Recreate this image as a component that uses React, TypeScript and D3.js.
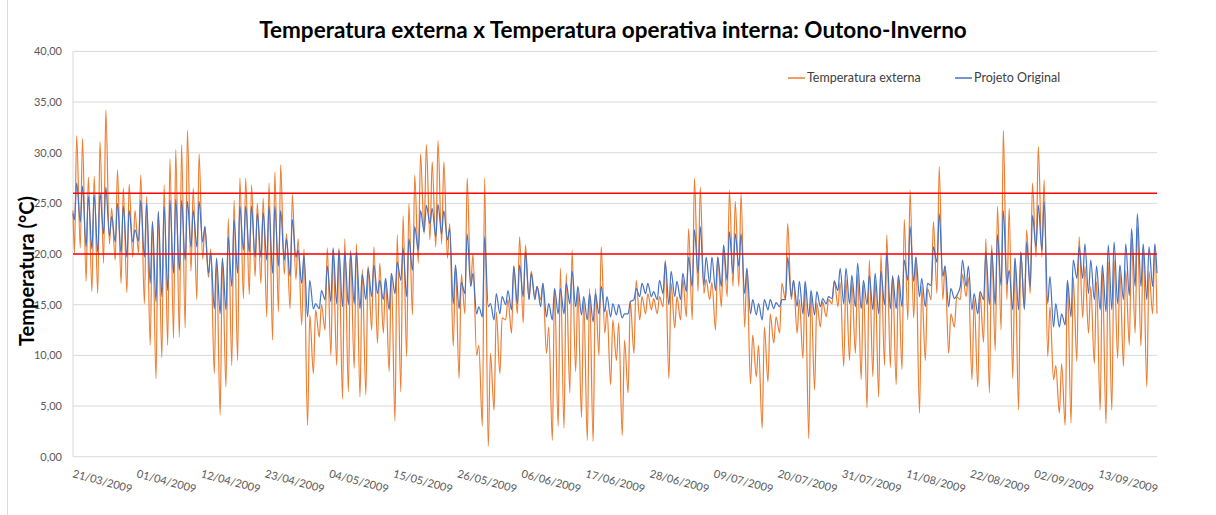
import React from 'react';
import * as d3 from 'd3';

// one value per day, 21/03/2009 .. 22/09/2009 (186 days)
const extMax = [
  31.7, 31.4, 27.6, 27.7, 31.1, 34.2, 24.5, 28.3, 26.5, 26.9,
  24.3, 27.8, 25.7, 23.2, 24.2, 26.8, 29.4, 30.3, 30.8, 32.2,
  26.5, 29.9, 22.7, 20.5, 19.5, 19.5, 23.5, 25.3, 27.5, 27.5,
  26.8, 25.0, 25.5, 27.0, 28.1, 28.8, 22.0, 25.9, 21.5, 20.5,
  14.0, 14.5, 15.0, 20.6, 20.4, 20.6, 21.5, 20.4, 21.0, 18.5,
  18.8, 20.7, 19.1, 17.5, 18.1, 21.9, 23.8, 25.0, 27.8, 29.9,
  30.8, 29.1, 31.2, 29.1, 23.0, 18.9, 18.0, 27.5, 20.0, 11.0,
  27.5, 10.2, 14.3, 13.7, 15.5, 18.8, 21.7, 20.9, 18.3, 16.8,
  17.1, 12.8, 16.6, 18.6, 18.1, 20.4, 16.4, 15.5, 16.6, 16.6,
  20.7, 14.5, 13.5, 13.2, 11.5, 15.3, 17.4, 15.8, 16.1, 15.6,
  15.8, 19.4, 17.1, 15.8, 17.5, 22.5, 27.5, 26.6, 17.5, 17.2,
  19.7, 20.5, 26.3, 25.2, 26.0, 18.6, 12.0, 11.0, 12.8, 14.1,
  13.8, 17.1, 23.0, 17.4, 15.5, 17.1, 16.2, 15.2, 15.3, 15.5,
  17.4, 17.2, 17.5, 17.3, 18.0, 17.0, 19.4, 17.4, 20.0, 21.9,
  17.9, 17.7, 23.4, 26.3, 19.7, 16.8, 16.6, 23.2, 28.6, 18.8,
  14.1, 15.8, 18.0, 17.7, 15.5, 16.1, 21.5, 20.9, 24.7, 32.2,
  24.5, 19.6, 20.2, 22.4, 27.0, 30.6, 27.3, 14.8, 9.0, 9.2,
  17.4, 17.7, 21.7, 18.8, 16.8, 17.3, 18.4, 19.2, 19.4, 18.3,
  18.4, 21.5, 22.7, 20.7, 18.3, 20.7,
];

const extMin = [
  20.1, 20.6, 17.3, 16.3, 16.1, 19.1, 21.0, 19.4, 17.1, 16.2,
  19.7, 20.1, 15.1, 11.0, 7.7, 9.8, 11.0, 11.7, 11.8, 12.7,
  18.3, 15.5, 19.5, 17.7, 8.2, 4.1, 6.9, 9.0, 9.5, 15.6,
  16.0, 17.8, 17.1, 13.8, 11.5, 14.3, 18.0, 14.6, 17.5, 13.0,
  3.1, 8.2, 11.8, 12.5, 10.0, 9.0, 5.7, 6.4, 8.7, 5.9,
  6.1, 12.5, 11.2, 12.2, 8.4, 3.5, 6.4, 9.9, 14.0, 19.1,
  22.0, 21.4, 20.7, 21.0, 19.6, 10.9, 7.7, 14.1, 17.0, 10.0,
  3.0, 1.0, 4.6, 8.2, 13.5, 12.2, 14.1, 13.2, 15.5, 15.8,
  15.5, 10.2, 1.6, 3.0, 2.8, 6.3, 8.4, 3.9, 1.6, 1.5,
  10.0, 12.2, 7.1, 9.5, 2.1, 6.3, 10.2, 13.5, 14.1, 14.5,
  14.1, 14.8, 7.7, 12.7, 13.5, 13.8, 13.5, 16.3, 16.1, 15.5,
  12.5, 14.8, 15.8, 16.8, 16.8, 12.8, 7.2, 7.9, 2.8, 7.4,
  11.2, 12.2, 15.5, 15.5, 12.2, 9.7, 1.8, 6.6, 12.8, 13.8,
  15.1, 14.8, 8.9, 9.5, 10.2, 7.6, 4.8, 7.9, 5.9, 9.0,
  8.8, 7.1, 8.6, 13.5, 13.7, 4.3, 9.5, 15.5, 16.1, 15.5,
  10.2, 12.8, 15.5, 15.8, 7.6, 6.9, 11.3, 6.3, 10.5, 12.5,
  15.5, 7.7, 4.6, 14.5, 16.1, 19.7, 19.7, 9.9, 7.6, 4.3,
  3.1, 3.3, 9.4, 13.7, 12.2, 9.2, 4.6, 3.3, 4.6, 9.7,
  8.9, 11.0, 12.2, 10.9, 6.9, 14.1,
];

const intMax = [
  27.0, 26.7, 25.7, 25.8, 26.0, 26.6, 23.7, 25.0, 24.7, 24.3,
  22.4, 25.3, 25.0, 23.2, 24.2, 24.7, 25.3, 25.4, 25.3, 25.2,
  24.3, 25.2, 22.7, 20.1, 19.6, 19.6, 21.7, 23.4, 24.7, 24.7,
  24.7, 24.0, 24.1, 24.7, 24.7, 24.3, 21.5, 23.4, 20.4, 19.9,
  17.4, 15.1, 16.4, 18.8, 20.6, 20.4, 20.2, 20.2, 20.2, 18.0,
  18.6, 18.9, 17.4, 17.6, 18.1, 19.2, 20.6, 21.5, 22.7, 24.3,
  24.8, 24.5, 24.9, 24.3, 22.5, 18.9, 17.2, 22.0, 18.1, 14.8,
  21.7, 15.1, 16.1, 15.8, 16.4, 18.8, 18.9, 20.2, 18.1, 16.8,
  17.1, 15.1, 16.6, 16.6, 17.1, 18.3, 16.8, 15.8, 16.1, 16.1,
  16.8, 15.8, 15.1, 15.0, 14.1, 15.3, 16.6, 17.1, 17.1, 16.3,
  17.4, 19.2, 18.3, 17.3, 18.1, 19.7, 22.4, 22.7, 19.7, 19.7,
  19.7, 20.9, 22.2, 22.0, 22.0, 18.6, 15.5, 15.1, 15.5, 15.5,
  15.2, 15.5, 19.7, 17.4, 17.3, 17.3, 16.4, 16.3, 15.6, 15.8,
  17.3, 18.6, 18.6, 17.9, 19.1, 17.4, 17.9, 18.1, 18.3, 20.1,
  17.8, 17.9, 19.4, 22.7, 19.7, 17.6, 17.1, 20.7, 24.0, 18.8,
  16.6, 15.9, 19.4, 18.8, 16.1, 16.3, 20.2, 20.4, 21.9, 24.3,
  18.4, 19.6, 20.2, 21.2, 23.8, 24.8, 25.2, 17.8, 15.1, 14.1,
  17.4, 19.4, 20.7, 21.0, 19.4, 18.8, 18.9, 20.9, 21.2, 18.9,
  21.0, 22.5, 24.0, 21.0, 20.7, 21.0,
];

const intMin = [
  23.4, 23.2, 20.7, 20.5, 20.2, 22.0, 21.8, 21.2, 20.1, 19.7,
  21.2, 21.3, 19.7, 17.1, 15.3, 15.8, 16.4, 18.1, 18.4, 19.4,
  20.7, 20.7, 21.2, 18.1, 14.6, 14.1, 14.5, 16.8, 18.1, 20.4,
  20.2, 19.7, 19.7, 19.4, 18.1, 18.8, 19.4, 17.8, 19.7, 17.1,
  13.8, 14.6, 14.6, 15.5, 15.3, 15.1, 14.8, 15.0, 15.1, 14.6,
  15.5, 15.8, 16.1, 15.5, 14.5, 16.1, 17.4, 15.8, 18.4, 20.4,
  22.2, 23.0, 21.7, 22.0, 21.4, 15.1, 14.6, 16.1, 16.8, 14.1,
  13.8, 14.8, 13.5, 14.1, 15.0, 14.5, 15.1, 15.8, 15.5, 15.5,
  14.8, 13.8, 13.5, 14.1, 14.1, 15.1, 14.8, 14.0, 13.5, 13.3,
  14.1, 14.3, 13.8, 14.0, 13.7, 14.1, 15.5, 15.8, 16.1, 15.8,
  15.5, 16.1, 15.0, 15.8, 15.5, 16.3, 16.8, 18.1, 16.9, 17.1,
  16.4, 16.8, 17.4, 18.1, 18.8, 16.1, 14.1, 14.0, 13.5, 14.5,
  14.6, 14.8, 15.5, 15.8, 14.8, 14.1, 13.8, 14.0, 14.8, 15.1,
  15.6, 16.4, 15.1, 15.1, 14.8, 14.6, 15.0, 14.5, 14.1, 15.0,
  14.6, 14.6, 14.8, 17.4, 17.3, 15.8, 14.8, 16.9, 19.2, 17.8,
  14.8, 15.6, 16.8, 16.8, 14.5, 14.1, 15.5, 15.0, 15.0, 16.9,
  17.0, 14.5, 14.5, 14.6, 16.8, 20.7, 20.4, 15.1, 12.8, 12.8,
  13.0, 13.8, 17.6, 17.6, 16.1, 15.5, 14.5, 14.3, 14.5, 15.1,
  15.5, 15.9, 16.8, 16.8, 15.5, 16.8,
];

const extStart = 24.3, extEnd = 14.1;
const intStart = 24.0, intEnd = 18.1;

const dateLabels = [
  '21/03/2009', '01/04/2009', '12/04/2009', '23/04/2009', '04/05/2009',
  '15/05/2009', '26/05/2009', '06/06/2009', '17/06/2009', '28/06/2009',
  '09/07/2009', '20/07/2009', '31/07/2009', '11/08/2009', '22/08/2009',
  '02/09/2009', '13/09/2009',
];
const labelStep = 11; // days between labels
const yTicks = [0, 5, 10, 15, 20, 25, 30, 35, 40];
const limits = [20, 26];

const seriesNames = ['Temperatura externa', 'Projeto Original'];
const colors = ['#ED7D31', '#4472C4'];

type Pt = { t: number; v: number };

function buildSeries(mins: number[], maxs: number[], start: number, end: number): Pt[] {
  const pts: Pt[] = [{ t: 0, v: start }];
  mins.forEach((m, d) => {
    pts.push({ t: d + 0.25, v: m });
    pts.push({ t: d + 0.63, v: maxs[d] });
  });
  pts.push({ t: mins.length, v: end });
  return pts;
}

const font = 'Lato, "Open Sans", sans-serif';

export default function App() {
  const width = 1216, height = 515;
  const left = 73, right = 1157, top = 51.4, bottom = 456.7;

  const x = d3.scaleLinear().domain([0, extMin.length]).range([left, right]);
  const y = d3.scaleLinear().domain([0, 40]).range([bottom, top]);

  const line = d3.line<Pt>()
    .x(p => x(p.t))
    .y(p => y(p.v))
    .curve(d3.curveMonotoneX);

  const ext = buildSeries(extMin, extMax, extStart, extEnd);
  const int = buildSeries(intMin, intMax, intStart, intEnd);

  return (
    <svg width={width} height={height} style={{ position: 'absolute', left: 0, top: 0, background: '#fff' }}>
      <line x1={7.5} x2={7.5} y1={0} y2={height} stroke="#d9d9d9" />

      <text x={613} y={38} textAnchor="middle" fontFamily={font} fontWeight="bold" fontSize={22.5} fill="#000">
        Temperatura externa x Temperatura operativa interna: Outono-Inverno
      </text>

      {yTicks.map(t => (
        <g key={t}>
          {t > 0 && <line x1={left} x2={right} y1={y(t)} y2={y(t)} stroke="#d9d9d9" strokeWidth={1} />}
          <text x={62} y={y(t)} dy="0.35em" textAnchor="end" fontFamily={font} fontSize={11} fill="#595959">
            {d3.format('.2f')(t).replace('.', ',')}
          </text>
        </g>
      ))}
      <line x1={left} x2={left} y1={top} y2={bottom} stroke="#d9d9d9" />
      <line x1={left} x2={right} y1={bottom} y2={bottom} stroke="#d9d9d9" />

      {dateLabels.map((lab, i) => (
        <text key={lab} transform={`translate(${x(i * labelStep) - 1},477) rotate(15)`}
          fontFamily={font} fontSize={11} fill="#595959">{lab}</text>
      ))}

      <text transform="translate(34,271) rotate(-90)" textAnchor="middle" fontFamily={font}
        fontWeight="bold" fontSize={20} fill="#000">Temperatura (°C)</text>

      <path d={line(ext) ?? ''} fill="none" stroke={colors[0]} strokeWidth={1.2} strokeLinejoin="round" />
      <path d={line(int) ?? ''} fill="none" stroke={colors[1]} strokeWidth={1.2} strokeLinejoin="round" />

      {limits.map(l => (
        <line key={l} x1={left} x2={right} y1={y(l)} y2={y(l)} stroke="#ff0000" strokeWidth={1.5} />
      ))}

      <g fontFamily={font} fontSize={12.5} fill="#404040">
        <line x1={788} x2={805} y1={78} y2={78} stroke={colors[0]} strokeWidth={1.5} />
        <text x={807} y={78} dy="0.35em">{seriesNames[0]}</text>
        <line x1={955} x2={972} y1={78} y2={78} stroke={colors[1]} strokeWidth={1.5} />
        <text x={974} y={78} dy="0.35em">{seriesNames[1]}</text>
      </g>
    </svg>
  );
}
